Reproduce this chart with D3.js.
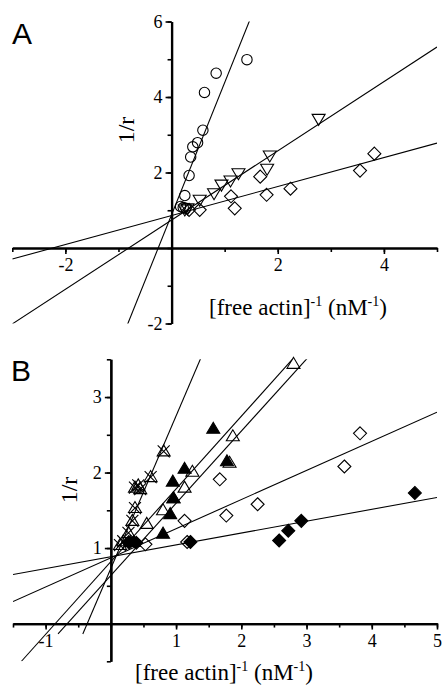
<!DOCTYPE html>
<html>
<head>
<meta charset="utf-8">
<script src="https://cdn.jsdelivr.net/npm/d3@7"></script>
<style>
  body { margin: 0; background: #fff; }
  svg { display: block; }
</style>
</head>
<body>
<div id="chart"></div>
<script>
// ---- panel A data ----
const circleX = [1.42, 0.84, 0.62, 0.59, 0.49, 0.40, 0.36, 0.33, 0.25, 0.17, 0.22, 0.27];
const circleY = [4.99, 4.63, 4.12, 3.12, 2.79, 2.68, 2.41, 1.92, 1.39, 1.10, 1.07, 1.05];
const triDownX = [2.77, 1.85, 1.80, 1.26, 1.11, 0.94, 0.80, 0.53, 0.30, 0.25];
const triDownY = [3.42, 2.45, 2.10, 1.98, 1.79, 1.68, 1.45, 1.28, 1.05, 1.02];
const diamondAX = [3.82, 3.55, 2.24, 1.79, 1.67, 1.12, 1.19, 0.53, 0.33];
const diamondAY = [2.50, 2.05, 1.57, 1.41, 1.89, 1.37, 1.05, 1.01, 1.01];
// fitted lines A: circles, down-triangles, diamonds
const fitSlopeA = [3.5, 0.917, 0.384];
const fitInterceptA = [0.88, 0.74, 0.86];
const fitFromA = [-0.83, -3, -3];
const fitToA = [1.6, 5, 5];
const xTicksA = [-3, -2, -1, 0, 1, 2, 3, 4, 5];
const xLabelsA = [-2, 2, 4];
const yTicksA = [-2, -1, 0, 1, 2, 3, 4, 5, 6];
const yLabelsA = [-2, 2, 4, 6];

// ---- panel B data ----
const crossTriX = [0.81, 0.61, 0.42, 0.37, 0.45, 0.37, 0.33, 0.27, 0.19, 0.14];
const crossTriY = [2.28, 1.94, 1.83, 1.80, 1.78, 1.53, 1.36, 1.20, 1.09, 1.04];
const openTriX = [2.80, 1.87, 1.82, 1.25, 1.13, 0.96, 0.80, 0.55, 0.30];
const openTriY = [3.44, 2.48, 2.13, 2.01, 1.80, 1.66, 1.50, 1.32, 1.08];
const fillTriX = [1.57, 1.13, 1.78, 0.95, 0.96, 0.91, 0.80, 0.35];
const fillTriY = [2.58, 2.05, 2.15, 1.88, 1.66, 1.45, 1.19, 1.08];
const openDiaX = [3.82, 3.58, 2.25, 1.77, 1.67, 1.13, 1.17, 0.53];
const openDiaY = [2.52, 2.08, 1.58, 1.43, 1.91, 1.36, 1.08, 1.05];
const fillDiaX = [4.66, 2.92, 2.72, 2.58, 1.22, 0.39, 0.28];
const fillDiaY = [1.73, 1.36, 1.23, 1.10, 1.08, 1.07, 1.07];
// fitted lines B: filled diamonds, open diamonds, open triangles, filled triangles, crossed triangles
const fitSlopeB = [0.157, 0.386, 0.963, 0.955, 2.02];
const fitInterceptB = [0.885, 0.87, 0.82, 0.638, 0.73];
const fitFromB = [-1.5, -1.5, -1.37, -0.81, -0.43];
const fitToB = [5, 5, 3.2, 3.3, 1.6];
const xTicksB = [-1.5, -1, -0.5, 0, 0.5, 1, 1.5, 2, 2.5, 3, 3.5, 4, 4.5, 5];
const xLabelsB = [-1, 1, 2, 3, 4, 5];
const yTicksB = [-0.5, 0, 0.5, 1, 1.5, 2, 2.5, 3, 3.5];
const yLabelsB = [1, 2, 3];

const zip = (xs, ys) => xs.map((x, i) => ({ x: x, y: ys[i] }));
const serif = "'Liberation Serif', 'Times New Roman', serif";

// marker shapes (path strings centred on 0,0)
const shapes = {
    triDown: "M-6.5,-4.5L6.5,-4.5L0,6.5Z",
    triUp: "M-6.5,4.5L6.5,4.5L0,-6.5Z",
    diamond: "M0,-6.5L6.5,0L0,6.5L-6.5,0Z",
    cross: "M-6,-6L6,6M-6,6L6,-6"
};

const svg = d3.select("#chart")
    .append("svg")
    .attr("width", 442)
    .attr("height", 686);

function drawPanel(p) {
    const x = d3.scaleLinear().domain(p.xDomain).range(p.xRange);
    const y = d3.scaleLinear().domain(p.yDomain).range(p.yRange);
    const g = svg.append("g");

    const clipId = "clip" + p.name;
    g.append("clipPath").attr("id", clipId)
        .append("rect")
        .attr("x", p.xRange[0]).attr("y", p.yRange[1])
        .attr("width", p.xRange[1] - p.xRange[0])
        .attr("height", p.yRange[0] - p.yRange[1]);

    // axes crossing at origin
    const fmt = d => String(d);
    const xMinor = d3.axisBottom(x).tickValues(p.xTicks).tickSize(4).tickSizeOuter(0).tickFormat("");
    const xMajor = d3.axisBottom(x).tickValues(p.xLabels).tickSize(6).tickSizeOuter(0)
        .tickPadding(p.xPad).tickFormat(fmt);
    const yMinor = d3.axisLeft(y).tickValues(p.yTicks).tickSize(4).tickSizeOuter(0).tickFormat("");
    const yMajor = d3.axisLeft(y).tickValues(p.yLabels).tickSize(6).tickSizeOuter(0)
        .tickPadding(3).tickFormat(fmt);

    [xMinor, xMajor].forEach(ax => {
        g.append("g").attr("transform", `translate(0,${y(0)})`).call(ax);
    });
    [yMinor, yMajor].forEach(ax => {
        g.append("g").attr("transform", `translate(${x(0)},0)`).call(ax);
    });
    g.selectAll(".domain").attr("stroke-width", 2.2);
    g.selectAll(".tick line").attr("stroke-width", 1.6);
    g.selectAll(".tick text")
        .attr("font-family", serif)
        .style("font-family", serif)
        .style("font-size", "18px");

    // fitted lines
    const lineGen = d3.line().x(d => x(d[0])).y(d => y(d[1]));
    const fits = p.slopes.map((m, i) => [
        [p.from[i], p.intercepts[i] + m * p.from[i]],
        [p.to[i], p.intercepts[i] + m * p.to[i]]
    ]);
    g.append("g").attr("clip-path", `url(#${clipId})`)
        .selectAll("path")
        .data(fits)
        .enter()
        .append("path")
        .attr("d", lineGen)
        .attr("fill", "none")
        .attr("stroke", "#000")
        .attr("stroke-width", 1.1);

    // markers
    p.series.forEach(s => {
        const pts = g.append("g").selectAll("g")
            .data(zip(s.x, s.y))
            .enter()
            .append("g")
            .attr("transform", d => `translate(${x(d.x)},${y(d.y)})`);
        if (s.shape === "circle") {
            pts.append("circle").attr("r", 5.2)
                .attr("fill", "none").attr("stroke", "#000").attr("stroke-width", 1.1);
        } else {
            pts.append("path").attr("d", shapes[s.shape])
                .attr("fill", s.filled ? "#000" : "none")
                .attr("stroke", "#000").attr("stroke-width", 1.1);
            if (s.crossed) {
                pts.append("path").attr("d", shapes.cross)
                    .attr("fill", "none").attr("stroke", "#000").attr("stroke-width", 1.1);
            }
        }
    });

    // titles
    g.append("text")
        .attr("transform", `translate(${p.yTitle[0]},${p.yTitle[1]}) rotate(-90)`)
        .attr("text-anchor", "middle")
        .style("font-family", serif)
        .style("font-size", "24px")
        .text("1/r");

    const xt = g.append("text")
        .attr("x", p.xTitle[0]).attr("y", p.xTitle[1])
        .attr("text-anchor", "middle")
        .style("font-family", serif)
        .style("font-size", "23px");
    xt.append("tspan").text("[free actin]");
    xt.append("tspan").attr("dy", -9).style("font-size", "14px").text("-1");
    xt.append("tspan").attr("dy", 9).text(" (nM");
    xt.append("tspan").attr("dy", -9).style("font-size", "14px").text("-1");
    xt.append("tspan").attr("dy", 9).text(")");

    g.append("text")
        .attr("x", p.letter[0]).attr("y", p.letter[1])
        .style("font-family", "'Liberation Sans', Arial, sans-serif")
        .style("font-size", "30px")
        .text(p.name);
}

drawPanel({
    name: "A",
    xDomain: [-3, 5], xRange: [12.3, 437],
    yDomain: [-2, 6], yRange: [323.5, 21.5],
    xTicks: xTicksA, xLabels: xLabelsA, yTicks: yTicksA, yLabels: yLabelsA,
    xPad: 4,
    slopes: fitSlopeA, intercepts: fitInterceptA, from: fitFromA, to: fitToA,
    series: [
        { x: circleX, y: circleY, shape: "circle" },
        { x: triDownX, y: triDownY, shape: "triDown" },
        { x: diamondAX, y: diamondAY, shape: "diamond" }
    ],
    yTitle: [134, 130],
    xTitle: [298, 315],
    letter: [12, 44]
});

drawPanel({
    name: "B",
    xDomain: [-1.5, 5], xRange: [13, 437],
    yDomain: [-0.5, 3.5], yRange: [661.3, 359.3],
    xTicks: xTicksB, xLabels: xLabelsB, yTicks: yTicksB, yLabels: yLabelsB,
    xPad: 5,
    slopes: fitSlopeB, intercepts: fitInterceptB, from: fitFromB, to: fitToB,
    series: [
        { x: openDiaX, y: openDiaY, shape: "diamond" },
        { x: fillDiaX, y: fillDiaY, shape: "diamond", filled: true },
        { x: openTriX, y: openTriY, shape: "triUp" },
        { x: fillTriX, y: fillTriY, shape: "triUp", filled: true },
        { x: crossTriX, y: crossTriY, shape: "triUp", crossed: true }
    ],
    yTitle: [77, 490],
    xTitle: [224, 680],
    letter: [11, 381]
});
</script>
</body>
</html>
